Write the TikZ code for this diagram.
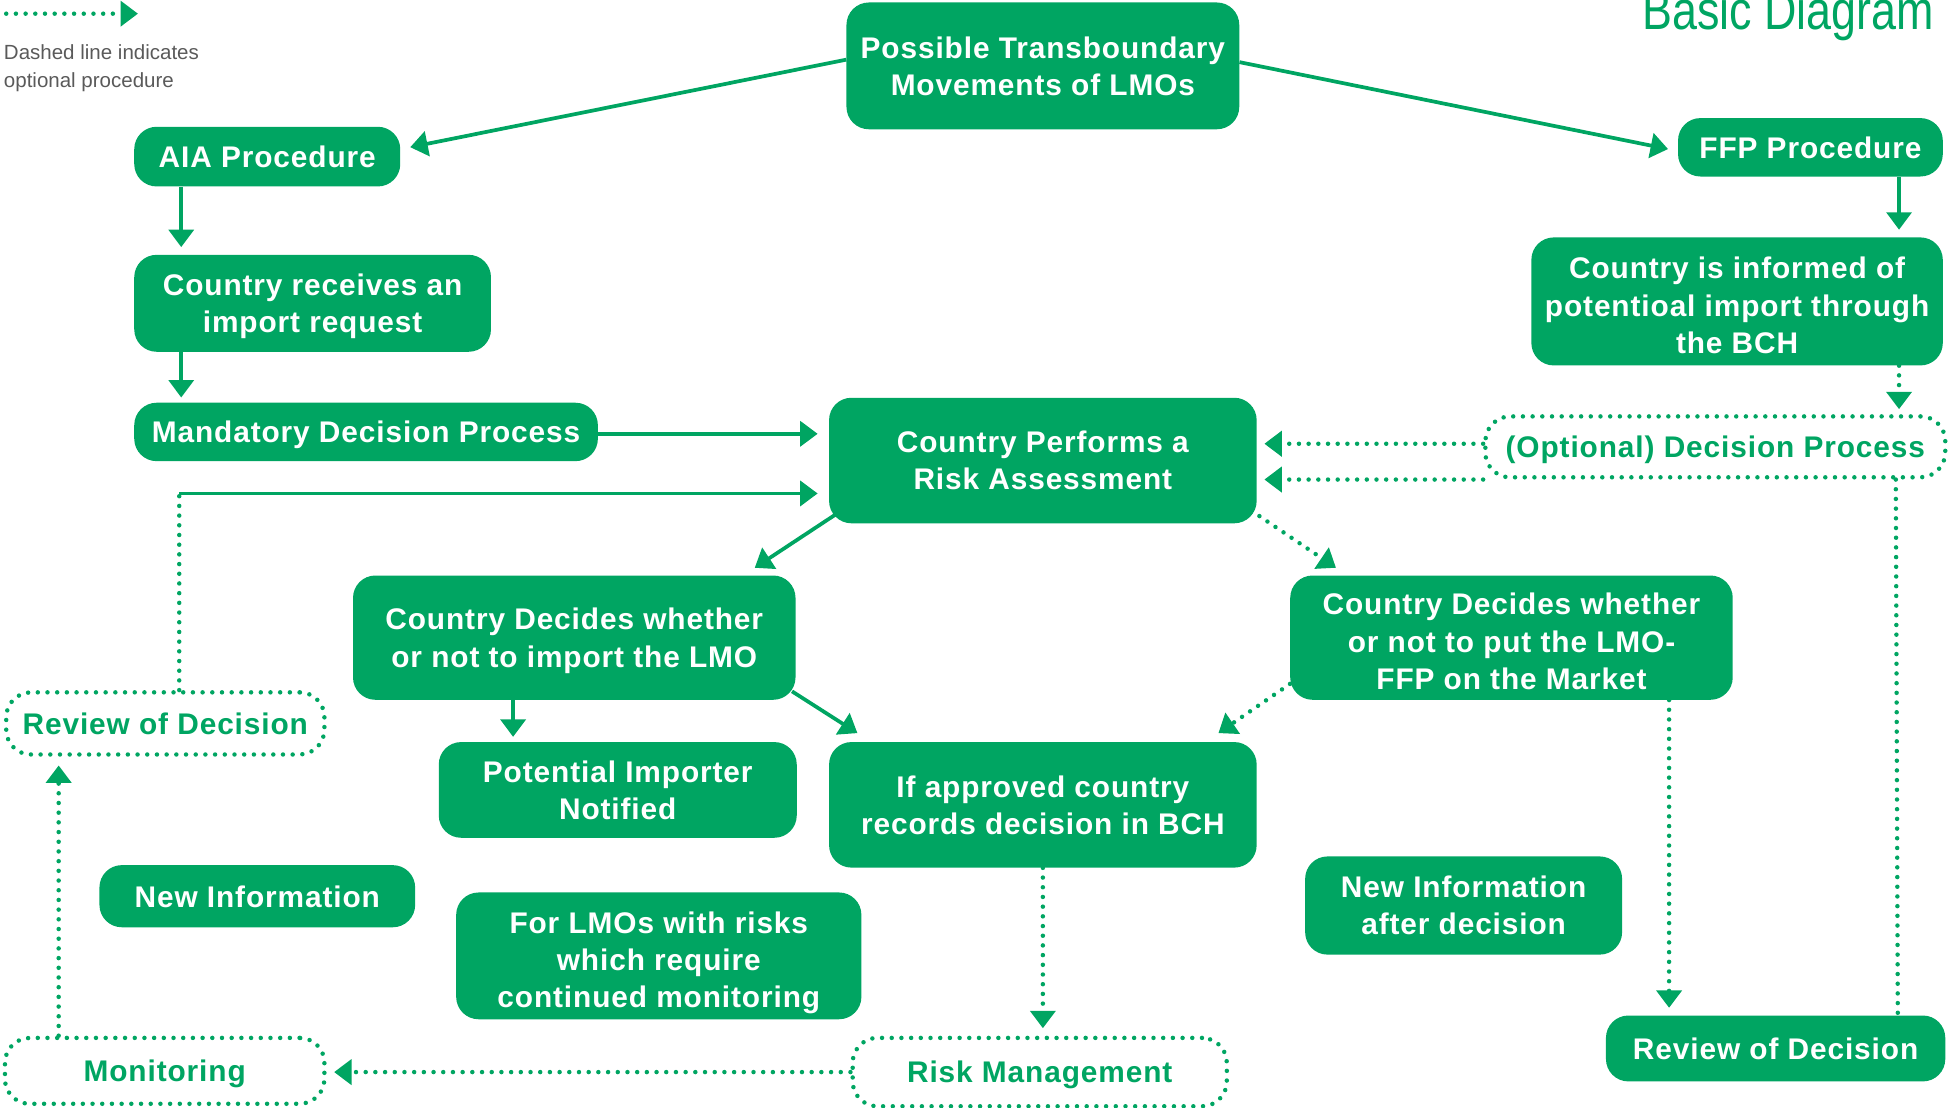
\documentclass[tikz,border=0pt]{standalone}
\usepackage{graphicx}
\usepackage{fontspec}
\setmainfont{Liberation Sans}
\newfontfamily\bxfont{Liberation Sans}[LetterSpace=3]
\usetikzlibrary{arrows.meta}
\definecolor{G}{HTML}{00A562}
\definecolor{legendgray}{HTML}{5A5A5A}
\begin{document}
\begin{tikzpicture}[x=1pt,y=-1pt,
  boxtext/.style={font=\bxfont\bfseries\fontsize{24}{30}\selectfont, align=center, inner sep=0pt, text depth=0pt},
  box/.style={boxtext, fill=G, rounded corners=18pt, text=white},
  lower/.style={text height=83.5pt},
  dotpat/.style={line width=3.6pt, dash pattern=on 0pt off 7.8pt, line cap=round},
  obox/.style={boxtext, draw=G, dotpat, rounded corners=20pt, text=G},
  conn/.style={draw=G, line width=3pt, -{Triangle[length=14pt,width=20pt]}},
  dotconn/.style={conn, dotpat},
  dotline/.style={draw=G, dotpat}
]
\useasboundingbox (0,0) rectangle (1568,891);

% legend and title
\coordinate (lg1) at (5,11);
\coordinate (lg2) at (111,11);
\draw[dotconn] (lg1) -- (lg2);
\node[anchor=north west, inner sep=0pt, align=left, text=legendgray,
      font=\fontsize{16.5}{22}\selectfont] (legend) at (3,36)
      {Dashed line indicates\\optional procedure};
\node[anchor=base east, inner sep=0pt, text=G, font=\fontsize{44}{44}\selectfont]
      (title) at (1556,24) {\scalebox{0.82}[1]{Basic Diagram}};

% nodes
\node[box, minimum width=316pt, minimum height=102pt] (top) at (839,53)
  {Possible Transboundary\\Movements of LMOs};
\node[box, minimum width=214pt, minimum height=48pt] (aia) at (215,126) {AIA Procedure};
\node[box, minimum width=213pt, minimum height=47pt] (ffp) at (1456.5,118.5) {FFP Procedure};
\node[box, minimum width=287pt, minimum height=78pt] (recv) at (251.5,244)
  {Country receives an\\import request};
\node[box, lower, minimum width=331pt, minimum height=103pt] (inf) at (1397.5,242.5)
  {Country is informed of\\potentioal import through\\the BCH};
\node[box, minimum width=373pt, minimum height=47pt] (mand) at (294.5,347.5)
  {Mandatory Decision Process};
\node[box, minimum width=344pt, minimum height=101pt] (ra) at (839,370.5)
  {Country Performs a\\Risk Assessment};
\node[obox, minimum width=370pt, minimum height=49pt] (opt) at (1380,359.5)
  {(Optional) Decision Process};
\node[box, minimum width=356pt, minimum height=100pt] (decI) at (462,513)
  {Country Decides whether\\or not to import the LMO};
\node[box, lower, minimum width=356pt, minimum height=100pt] (decF) at (1216,513)
  {Country Decides whether\\or not to put the LMO-\\FFP on the Market};
\node[obox, minimum width=256pt, minimum height=50pt] (revL) at (133,582)
  {Review of Decision};
\node[box, minimum width=288pt, minimum height=77pt] (pin) at (497,635.5)
  {Potential Importer\\Notified};
\node[box, minimum width=344pt, minimum height=101pt] (appr) at (839,647.5)
  {If approved country\\records decision in BCH};
\node[box, minimum width=254pt, minimum height=50pt] (newL) at (207,721)
  {New Information};
\node[box, lower, minimum width=326pt, minimum height=102pt] (lmos) at (530,769)
  {For LMOs with risks\\which require\\continued monitoring};
\node[box, minimum width=255pt, minimum height=79pt] (newR) at (1177.5,728.5)
  {New Information\\after decision};
\node[box, minimum width=273pt, minimum height=53pt] (revR) at (1428.5,843.5)
  {Review of Decision};
\node[obox, minimum width=257pt, minimum height=53pt] (mon) at (132.5,861.5)
  {Monitoring};
\node[obox, minimum width=301pt, minimum height=55pt] (rm) at (836.5,862.5)
  {Risk Management};

% connectors
\draw[conn, shorten >=8pt] ([yshift=5pt]top.west) -- ([yshift=6pt]aia.east);
\draw[conn, shorten >=8pt] ([yshift=3pt]top.east) -- ([yshift=-3pt]ffp.west);
\draw[conn, shorten >=6pt] ([xshift=38pt]aia.south west) -- ([xshift=38pt]recv.north west);
\draw[conn, shorten >=4pt] ([xshift=38pt]recv.south west) -- ([xshift=38pt]mand.north west);
\draw[conn, shorten >=9pt] ([yshift=-1.5pt]mand.east) -- ([yshift=-1.5pt]mand.east -| ra.west);
\coordinate (fb) at ([xshift=141pt]revL.north west |- 0,397);
\draw[dotline] ([xshift=141pt]revL.north west) -- (fb);
\draw[conn, shorten >=9pt] (fb) -- (fb -| ra.west);
\draw[conn, shorten >=6pt] ([xshift=178pt]ffp.south west) -- ([xshift=296pt]inf.north west);
\draw[dotconn, shorten >=4pt] ([xshift=296pt]inf.south west) -- ([xshift=296pt]inf.south west |- opt.north);
\draw[dotconn, shorten >=6pt] ([yshift=2.5pt]opt.west) -- ([yshift=2.5pt]opt.west -| ra.east);
\draw[dotconn, shorten >=6pt] (opt.south west) -- (opt.south west -| ra.east);
\draw[dotline] ([xshift=332pt]opt.south west) -- ([xshift=235pt]revR.north west);
\draw[conn] ([shift={(5,-7)}]ra.south west) -- ([shift={(-33,-6)}]decI.north east);
\draw[dotconn] ([shift={(2,-6)}]ra.south east) -- ([shift={(37,-6)}]decF.north west);
\draw[conn, shorten >=4pt] ([xshift=129pt]decI.south west) -- ([xshift=60pt]pin.north west);
\draw[conn] ([shift={(-3,-7)}]decI.south east) -- ([shift={(23,-7)}]appr.north west);
\draw[dotconn] ([shift={(0,-13)}]decF.south west) -- ([shift={(-31,-7)}]appr.north east);
\draw[dotconn, shorten >=6pt] ([xshift=305pt]decF.south west) -- ([xshift=51pt]revR.north west);
\draw[dotconn, shorten >=6pt] (appr.south) -- (appr.south |- rm.north);
\draw[dotconn, shorten >=6pt] (rm.west) -- (rm.west -| mon.east);
\draw[dotconn, shorten >=7pt] ([xshift=45pt]mon.north west) -- ([xshift=44pt]revL.south west);
\end{tikzpicture}
\end{document}
